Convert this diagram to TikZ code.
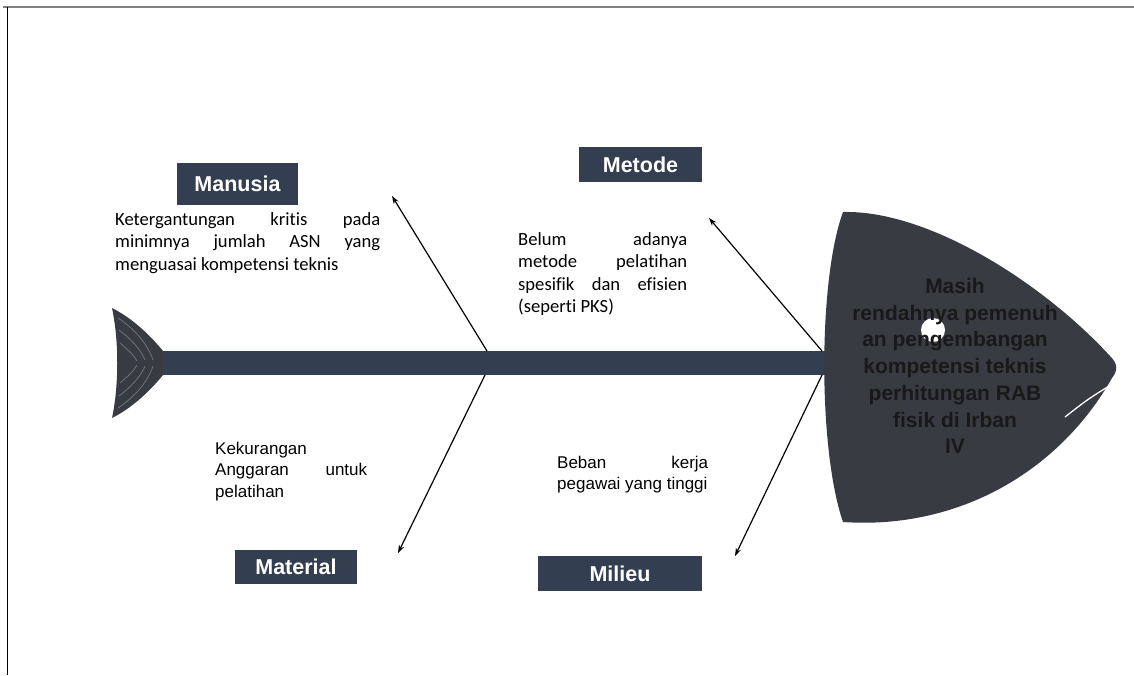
\documentclass[tikz,border=0pt]{standalone}
\usepackage{fontspec}
\setmainfont{Liberation Sans}
\newfontfamily\calibri[Ligatures=NoCommon]{Carlito}
\usetikzlibrary{arrows.meta}
\definecolor{navy}{HTML}{333F50}
\definecolor{fishgray}{HTML}{383B42}
\definecolor{stripecol}{HTML}{6E727A}
\definecolor{headtext}{HTML}{191919}
\begin{document}
\begin{tikzpicture}[x=1pt,y=-1pt,
  catbox/.style={fill=navy,text=white,font=\bfseries\fontsize{21.5}{25}\selectfont,inner sep=0pt},
  causecal/.style={inner sep=0pt,anchor=north west,align=left,font=\calibri\fontsize{18.6}{22.5}\selectfont},
  causearial/.style={inner sep=0pt,anchor=north west,align=left,font=\fontsize{17}{21.5}\selectfont},
  bone/.style={line width=1.2pt,-{Stealth[length=8pt,width=5.5pt]}},
  stripe/.style={stripecol,line width=0.8pt}]
\useasboundingbox (0,0) rectangle (1134,675);
\fill[white] (0,0) rectangle (1134,675);
\draw[gray,line width=2pt] (3,7) -- (1134,7);
\draw[line width=1pt] (7,7) -- (7,675);

% spine
\fill[navy] (160,351) rectangle (826,375);
% tail
\fill[fishgray] (112,308) .. controls (132,318) and (150,335) .. (163,351) -- (163,375)
  .. controls (150,391) and (132,408) .. (112,418)
  .. controls (119,385) and (119,341) .. (112,308) -- cycle;
\draw[stripe] (118,318) .. controls (136,330) and (148,345) .. (153,360);
\draw[stripe] (118,408) .. controls (136,396) and (148,381) .. (153,366);
\draw[stripe] (119,330) .. controls (132,340) and (141,350) .. (145,360);
\draw[stripe] (119,396) .. controls (132,386) and (141,376) .. (145,366);
\draw[stripe] (120,343) .. controls (128,350) and (134,355) .. (137,361);
\draw[stripe] (120,383) .. controls (128,376) and (134,371) .. (137,365);

% head
\fill[fishgray] (843,212) .. controls (930,210) and (1045,285) .. (1110,356)
  .. controls (1118,364) and (1118,370) .. (1112,378)
  .. controls (1060,470) and (960,530) .. (843,522)
  .. controls (818,450) and (818,280) .. (843,212) -- cycle;
\draw[white,line width=1.3pt] (1065,417) .. controls (1088,399) .. (1114,383);
\fill[white] (933,330) circle (12);
\node[font=\bfseries\fontsize{21}{26.7}\selectfont,text=headtext,align=center] (effect) at (955,366)
  {Masih\\rendahnya pemenuh\\an pengembangan\\kompetensi teknis\\perhitungan RAB\\fisik di Irban\\IV};

% category boxes
\node[catbox,minimum width=121pt,minimum height=42pt] (manusia) at (237.5,184) {Manusia};
\node[catbox,minimum width=123pt,minimum height=35pt] (metode) at (640.5,164.5) {Metode};
\node[catbox,minimum width=122pt,minimum height=34pt] (material) at (296,567) {Material};
\node[catbox,minimum width=164pt,minimum height=35pt] (milieu) at (620,573.5) {Milieu};

% cause texts
\node[causecal] (cManusia) at (115,212)
  {\makebox[265pt][s]{Ketergantungan kritis pada}\\
   \makebox[265pt][s]{minimnya jumlah ASN yang}\\
   menguasai kompetensi teknis};
\node[causecal] (cMetode) at (518,232)
  {\makebox[169pt][s]{Belum adanya}\\
   \makebox[169pt][s]{metode pelatihan}\\
   \makebox[169pt][s]{spesifik dan efisien}\\
   (seperti PKS)};
\node[causearial] (cMaterial) at (215,441.5)
  {Kekurangan\\
   \makebox[152pt][s]{Anggaran untuk}\\
   pelatihan};
\node[causearial] (cMilieu) at (557,455.5)
  {\makebox[151pt][s]{Beban kerja}\\
   pegawai yang tinggi};

% bones
\coordinate (jA) at (487,351);
\coordinate (jB) at (485,375);
\coordinate (jC) at (822,351);
\coordinate (jD) at (822,375);
\coordinate (tipMan) at (392,196);
\coordinate (tipMet) at (709,218);
\coordinate (tipMat) at (398,553);
\coordinate (tipMil) at (735,556);
\draw[bone] (jA) -- (tipMan);
\draw[bone] (jC) -- (tipMet);
\draw[bone] (jB) -- (tipMat);
\draw[bone] (jD) -- (tipMil);
\end{tikzpicture}
\end{document}
